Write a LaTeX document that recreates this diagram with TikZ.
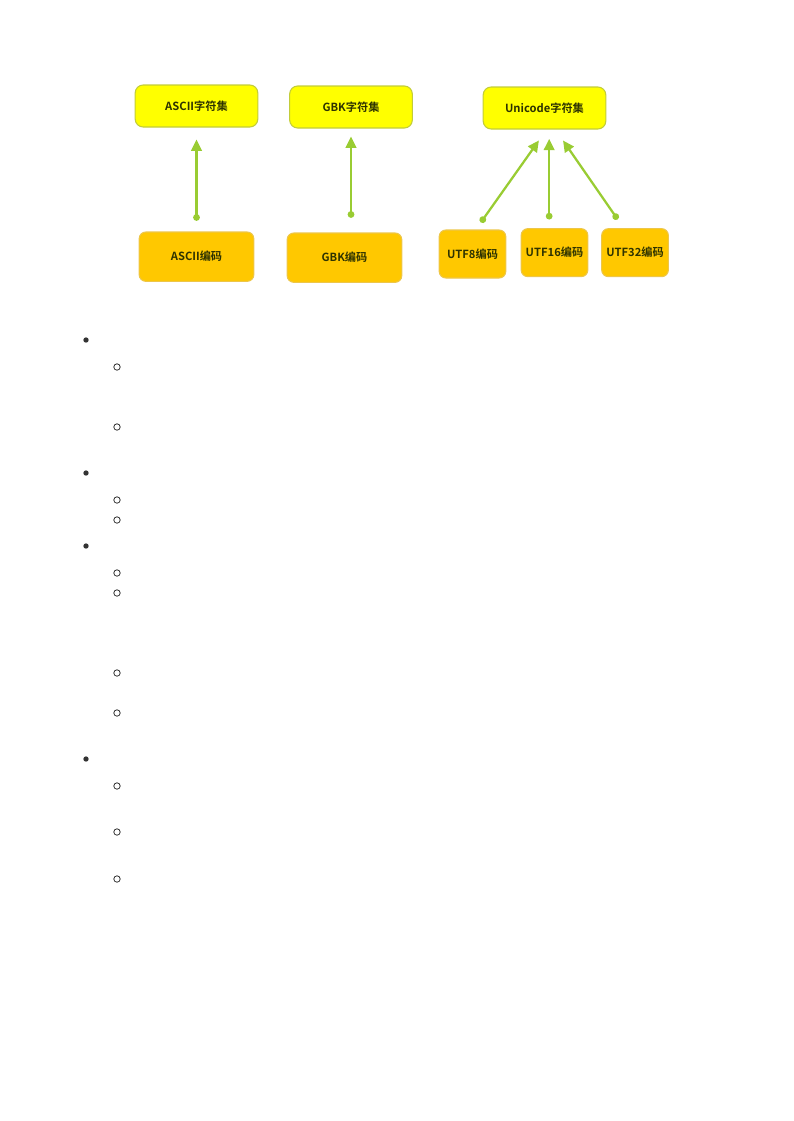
\documentclass[tikz,border=0pt]{standalone}
\usepackage{fontspec}
\newfontfamily\cjk{Noto Sans CJK SC}[BoldFont={Noto Sans CJK SC Bold}]
\usepackage{xcolor}
\usepackage{tikz}
\usetikzlibrary{arrows.meta}
\definecolor{setfill}{HTML}{FFFF00}
\definecolor{setline}{HTML}{C2CC3A}
\definecolor{encfill}{HTML}{FFC800}
\definecolor{encline}{HTML}{EDC64A}
\definecolor{linkgreen}{HTML}{99CC33}
\definecolor{labeltext}{HTML}{2E3300}
\definecolor{bulletgray}{HTML}{333333}
\tikzstyle{charset} = [draw=setline, fill=setfill, line width=0.8pt, rounded corners=6pt, minimum width=92pt, minimum height=31.5pt, inner sep=0pt]
\tikzstyle{encoding} = [draw=encline, fill=encfill, line width=0.8pt, rounded corners=5pt, minimum width=86pt, minimum height=37pt, inner sep=0pt]
\tikzstyle{utfenc} = [encoding, minimum width=50pt, minimum height=36pt]
\tikzstyle{link} = [draw=linkgreen, line width=1.7pt, {Circle[length=5pt,width=5pt]}-{Triangle[length=8.5pt,width=8pt]}, shorten <=8pt, shorten >=9pt]

\begin{document}
\begin{tikzpicture}[x=0.75pt, y=-0.75pt, node distance=113pt, every node/.style={font=\cjk\bfseries\fontsize{8.4}{9}\selectfont, text=labeltext}]
		\useasboundingbox (0,0) rectangle (793,1121);
		
		\node (1set) [charset] at (196.5,106) {ASCII字符集};
		\node (1enc) [encoding, below of=1set] {ASCII编码};
		
		\draw [link] (1enc.north) -- (1set.south);
		
		\node (2set) [charset] at (351,107) {GBK字符集};
		\node (2enc) [encoding, below of=2set, xshift=-4.9pt] {GBK编码};
		
		\draw [link, shorten <=11pt, shorten >=6pt] ([xshift=4.9pt]2enc.north) -- (2set.south);
		
		\node (3set) [charset] at (544.5,108) {Unicode字符集};
		\node (3enc16) [utfenc, below of=3set, xshift=7.5pt, yshift=4.5pt] {UTF16编码};
		\node (3enc8) [utfenc, left of=3enc16, node distance=61.5pt, yshift=-1pt] {UTF8编码};
		\node (3enc32) [utfenc, right of=3enc16, node distance=60.4pt] {UTF32编码};
		
		\draw [link, shorten <=6.5pt, shorten >=10pt] ([xshift=2.5pt]3enc8.north) -- ([xshift=1.6pt]3set.south);
		\draw [link, shorten <=6.5pt, shorten >=7pt] ([xshift=-4pt]3enc16.north) -- ([xshift=3.5pt]3set.south);
		\draw [link, shorten <=8pt, shorten >=10pt] ([xshift=-8.5pt]3enc32.north) -- ([xshift=8.2pt]3set.south);
		
		\foreach \y in {340,473,546,759}
			\fill [bulletgray] (86,\y) circle (2pt);
		\foreach \y in {367,427,500,520,573,593,673,713,786,832,879}
			\draw [bulletgray, line width=0.6pt] (117,\y) circle (2.4pt);
	\end{tikzpicture}
\end{document}
